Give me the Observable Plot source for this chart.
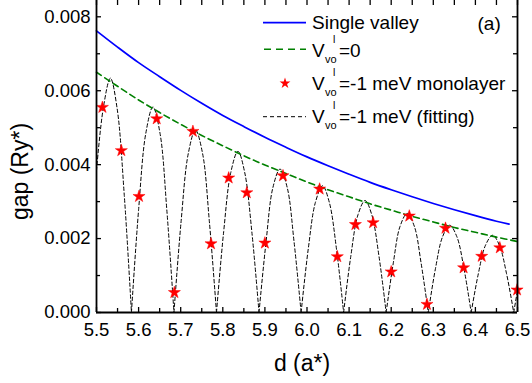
<!DOCTYPE html>
<html>
<head>
<meta charset="utf-8">
<script src="https://cdn.jsdelivr.net/npm/d3@7"></script>
<script src="https://cdn.jsdelivr.net/npm/@observablehq/plot@0.6"></script>
<style>
  html, body { margin: 0; padding: 0; background: #fff; }
</style>
</head>
<body>
<div id="chart"></div>
<script>
// ---- data ----
const blueD = [5.50,5.55,5.60,5.65,5.70,5.75,5.80,5.85,5.90,5.95,6.00,6.05,6.10,6.15,6.20,6.25,6.30,6.35,6.40,6.45,6.48];
const singleValley = [0.00762,0.00718,0.00676,0.00638,0.00601,0.00566,0.00533,0.00503,0.00474,0.00447,0.00421,0.00397,0.00374,0.00352,0.00332,0.00313,0.00295,0.00278,0.00262,0.00247,0.00239];

const greenD = [5.50,5.55,5.60,5.65,5.70,5.75,5.80,5.85,5.90,5.95,6.00,6.05,6.10,6.15,6.20,6.25,6.30,6.35,6.40,6.45,6.50];
const vZero = [0.00650,0.00612,0.00575,0.00541,0.00509,0.00479,0.00451,0.00424,0.00399,0.00376,0.00353,0.00332,0.00313,0.00294,0.00277,0.00260,0.00245,0.00230,0.00217,0.00204,0.00192];

const starD = [5.514,5.559,5.601,5.643,5.685,5.729,5.772,5.814,5.857,5.900,5.943,6.030,6.072,6.115,6.157,6.200,6.243,6.285,6.329,6.372,6.415,6.458,6.499];
const starGap = [0.00555,0.00438,0.00314,0.00524,0.00054,0.00490,0.00186,0.00364,0.00324,0.00188,0.00370,0.00334,0.00151,0.00238,0.00243,0.00110,0.00261,0.00022,0.00228,0.00121,0.00152,0.00175,0.00061];

// fitting curve, one arch per list: [d, gap]
const fitArches = [
  [[5.500,0.00384],[5.516,0.00552],[5.533,0.00634],[5.549,0.00552],[5.566,0.00317],[5.583,0]],
  [[5.583,0],[5.600,0.00278],[5.617,0.00484],[5.634,0.00556],[5.651,0.00484],[5.667,0.00278],[5.684,0]],
  [[5.684,0],[5.701,0.00247],[5.718,0.00430],[5.735,0.00494],[5.752,0.00430],[5.768,0.00247],[5.785,0]],
  [[5.785,0],[5.802,0.00218],[5.819,0.00379],[5.836,0.00436],[5.852,0.00379],[5.869,0.00218],[5.886,0]],
  [[5.886,0],[5.903,0.00194],[5.919,0.00338],[5.936,0.00388],[5.953,0.00338],[5.969,0.00194],[5.986,0]],
  [[5.986,0],[6.003,0.00172],[6.020,0.00298],[6.037,0.00343],[6.053,0.00298],[6.070,0.00172],[6.087,0]],
  [[6.087,0],[6.104,0.00152],[6.121,0.00264],[6.138,0.00303],[6.154,0.00264],[6.171,0.00152],[6.188,0]],
  [[6.188,0],[6.205,0.00134],[6.221,0.00233],[6.238,0.00268],[6.255,0.00233],[6.271,0.00134],[6.288,0]],
  [[6.288,0],[6.305,0.00118],[6.322,0.00205],[6.339,0.00236],[6.356,0.00205],[6.373,0.00118],[6.390,0]],
  [[6.390,0],[6.407,0.00105],[6.424,0.00182],[6.441,0.00209],[6.457,0.00182],[6.474,0.00105],[6.491,0]],
  [[6.491,0],[6.500,0.00060]]
];

const xTickLabels = [5.5,5.6,5.7,5.8,5.9,6.0,6.1,6.2,6.3,6.4,6.5];
const xMinorTicks = [5.55,5.65,5.75,5.85,5.95,6.05,6.15,6.25,6.35,6.45];
const yTickLabels = [0,0.002,0.004,0.006,0.008];
const yMinorTicks = [0.001,0.003,0.005,0.007];

const legendLabels = ["Single valley", "=0", "=-1 meV monolayer", "=-1 meV (fitting)"];

// ---- tables built from the arrays ----
const blueData = blueD.map((d, i) => ({d, g: singleValley[i]}));
const greenData = greenD.map((d, i) => ({d, g: vZero[i]}));
const starData = starD.map((d, i) => ({d, g: starGap[i]}));
const fitData = fitArches.flatMap((arch, k) => arch.map(([d, g]) => ({d, g, k})));

const font = "'Liberation Sans', Arial, Helvetica, sans-serif";
const W = 532, H = 383, ML = 96, MR = 15, MT = 0, MB = 71;
const FW = W - ML - MR, FH = H - MT - MB;

const chart = Plot.plot({
  width: W, height: H,
  marginLeft: ML, marginRight: MR, marginTop: MT, marginBottom: MB,
  style: {fontFamily: font, fontSize: "18.5px", color: "black", background: "white", overflow: "visible"},
  x: {domain: [5.5, 6.5], ticks: xTickLabels, tickFormat: ".1f", tickSize: 0, tickPadding: 10, label: null},
  y: {domain: [0, 0.008441], ticks: yTickLabels, tickFormat: ".3f", tickSize: 0, tickPadding: 6, label: null},
  marks: [
    Plot.line(fitData, {x: "d", y: "g", z: "k", stroke: "black", strokeWidth: 1, strokeDasharray: "3.5,2.5", curve: "catmull-rom"}),
    Plot.line(greenData, {x: "d", y: "g", stroke: "#008000", strokeWidth: 1.6, strokeDasharray: "6,4", curve: "catmull-rom"}),
    Plot.line(blueData, {x: "d", y: "g", stroke: "#0000ff", strokeWidth: 1.7, curve: "catmull-rom"}),
    Plot.dot(starData, {x: "d", y: "g", symbol: "star", fill: "#ff0000", stroke: "#ff0000", strokeWidth: 0.5, r: 3.8}),
    // inward ticks
    Plot.ruleX(xTickLabels, {insetTop: FH - 5, strokeWidth: 1.3}),
    Plot.ruleX(xMinorTicks, {insetTop: FH - 4, strokeWidth: 1.3}),
    Plot.ruleX(xTickLabels, {insetBottom: FH - 5, strokeWidth: 1.3}),
    Plot.ruleX(xMinorTicks, {insetBottom: FH - 5, strokeWidth: 1.3}),
    Plot.ruleY(yTickLabels, {insetRight: FW - 5, strokeWidth: 1.3}),
    Plot.ruleY(yMinorTicks, {insetRight: FW - 4, strokeWidth: 1.3}),
    Plot.ruleY(yTickLabels, {insetLeft: FW - 5, strokeWidth: 1.3}),
    Plot.ruleY(yMinorTicks, {insetLeft: FW - 4, strokeWidth: 1.3}),
    // frame (left, right, bottom)
    Plot.ruleX([5.5, 6.5], {strokeWidth: 1.8}),
    Plot.ruleY([0], {strokeWidth: 1.8}),
    // axis titles
    Plot.text(["d (a*)"], {frameAnchor: "bottom", text: d => d, dx: -5, dy: 51, fontSize: 23, lineAnchor: "middle"}),
    Plot.text(["gap (Ry*)"], {frameAnchor: "left", text: d => d, dx: -76, dy: 15, rotate: -90, fontSize: 23, lineAnchor: "middle", textAnchor: "middle"}),
    Plot.text(["(a)"], {frameAnchor: "top-left", text: d => d, dx: 381, dy: 29, fontSize: 19, lineAnchor: "bottom", textAnchor: "start"})
  ]
});

document.getElementById("chart").appendChild(chart);

// ---- legend (inside the frame, top right) ----
const svg = d3.select(chart);
const lg = svg.append("g").attr("font-family", font).attr("fill", "black").attr("text-anchor", "start");
const x0 = 263, x1 = 306, tx = 312;
const rows = [22.7, 49.3, 83.3, 116.7];
const bases = [29, 57, 90, 123];

lg.append("line").attr("x1", x0).attr("x2", x1).attr("y1", rows[0]).attr("y2", rows[0])
  .attr("stroke", "#0000ff").attr("stroke-width", 1.7);
lg.append("line").attr("x1", x0 + 1).attr("x2", x1).attr("y1", rows[1]).attr("y2", rows[1])
  .attr("stroke", "#008000").attr("stroke-width", 1.6).attr("stroke-dasharray", "7,5");
lg.append("path").attr("d", d3.symbol(d3.symbolStar, Math.PI * 3.4 * 3.4)())
  .attr("transform", `translate(285,${rows[2]})`).attr("fill", "#ff0000");
lg.append("line").attr("x1", x0).attr("x2", x1).attr("y1", rows[3]).attr("y2", rows[3])
  .attr("stroke", "black").attr("stroke-width", 1).attr("stroke-dasharray", "4,3");

lg.append("text").attr("x", tx).attr("y", bases[0]).attr("font-size", 19).attr("text-anchor", "start").text(legendLabels[0]);
for (let i = 1; i < 4; i++) {
  lg.append("text").attr("x", tx).attr("y", bases[i]).attr("font-size", 19).attr("text-anchor", "start").text("V");
  lg.append("text").attr("x", tx + 13).attr("y", bases[i] + 6).attr("font-size", 11).attr("text-anchor", "start").text("vo");
  lg.append("text").attr("x", tx + 21).attr("y", bases[i] - 14).attr("font-size", 10.5).attr("text-anchor", "start").text("l");
  lg.append("text").attr("x", tx + 27).attr("y", bases[i]).attr("font-size", 19).attr("text-anchor", "start").text(legendLabels[i]);
}
</script>
</body>
</html>
